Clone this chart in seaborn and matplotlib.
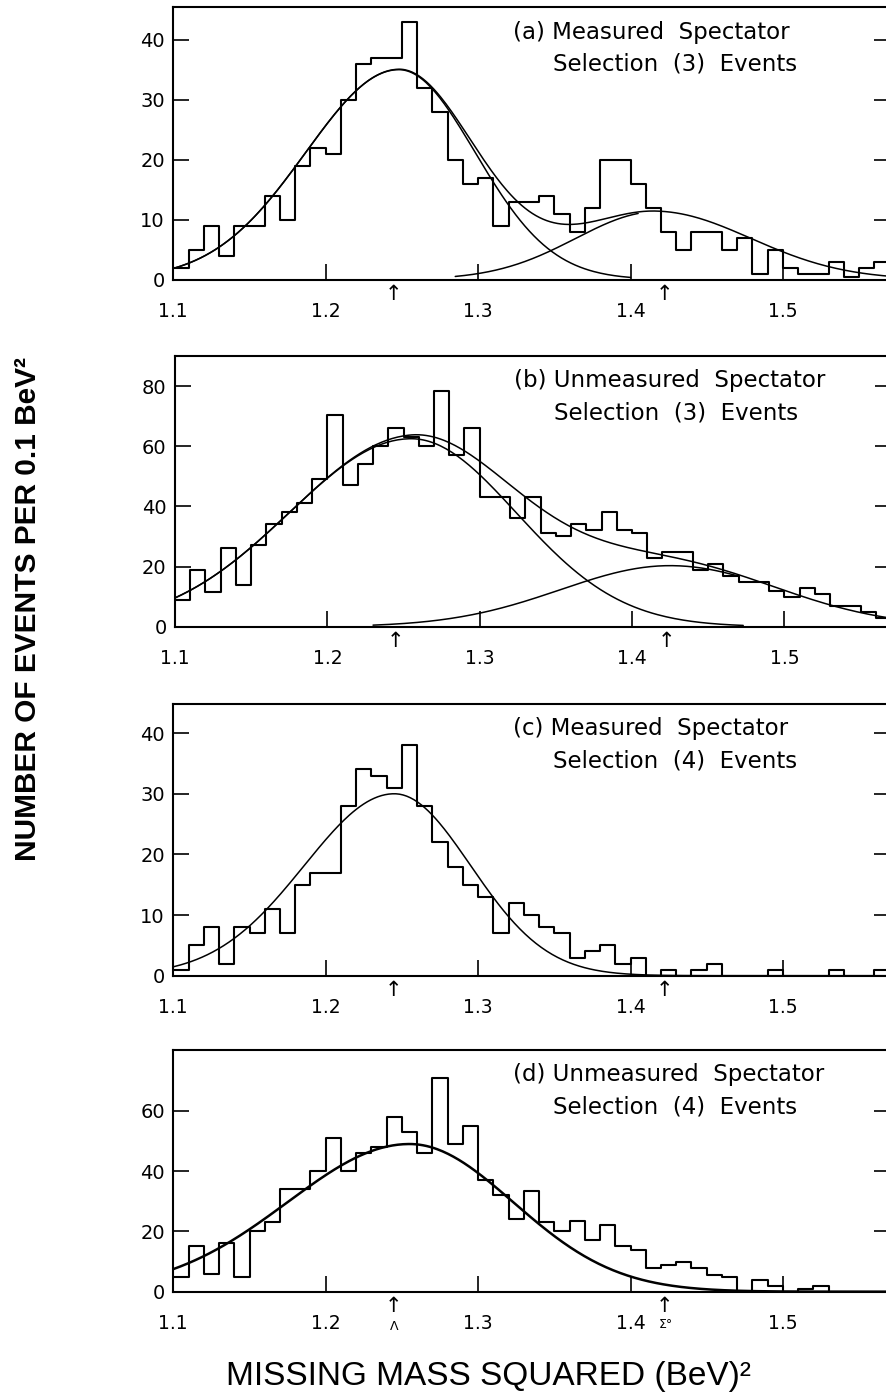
import numpy as np
import pandas as pd
import matplotlib
matplotlib.use("Agg")
import matplotlib.pyplot as plt
import seaborn as sns

# ---------------------------------------------------------------------------
# Missing-mass-squared histograms, 0.01 (BeV)^2 bins from 1.10 to 1.57
# ---------------------------------------------------------------------------
BIN_START = 1.10
BIN_STOP = 1.57
N_BINS = 47

# (a) measured spectator, selection (3)
counts_a = [2, 5, 9, 4, 9, 9, 14, 10, 19, 22,
            21, 30, 36, 37, 37, 43, 32, 28, 20, 16,
            17, 9, 13, 13, 14, 11, 8, 12, 20, 20,
            16, 12, 8, 5, 8, 8, 5, 7, 1, 5,
            2, 1, 1, 3, 0.5, 2, 3]
# (b) unmeasured spectator, selection (3)
counts_b = [9, 19, 11.5, 26, 14, 27, 34, 38, 41, 49,
            70.5, 47, 54, 60, 66, 63, 60, 78.5, 57, 66,
            43, 43, 36, 43, 31, 30, 34, 32, 38, 32,
            31, 23, 25, 25, 19, 21, 17, 15, 15, 12,
            10, 13, 11, 7, 7, 5, 3]
# (c) measured spectator, selection (4)
counts_c = [1, 5, 8, 2, 8, 7, 11, 7, 15, 17,
            17, 28, 34, 33, 31, 38, 28, 22, 18, 15,
            13, 7, 12, 10, 8, 7, 3, 4, 5, 2,
            3, 0, 1, 0, 1, 2, 0, 0, 0, 1,
            0, 0, 0, 1, 0, 0, 1]
# (d) unmeasured spectator, selection (4)
counts_d = [5, 15, 6, 16, 5, 20, 23, 34, 34, 40,
            51, 40, 46, 48, 58, 53, 46, 71, 49, 55,
            37, 32, 24, 33.5, 23, 20, 23.5, 17, 22, 15,
            14, 8, 9, 10, 8, 5.5, 5, 0, 4, 2,
            0, 1, 2, 0, 0, 0, 0]

# Fitted peaks: amplitude, centre, low-side width, high-side width
fit_a_lambda = [35.0, 1.248, 0.061, 0.050]
fit_a_sigma0 = [11.3, 1.417, 0.053, 0.062]
fit_b_lambda = [62.5, 1.255, 0.080, 0.069]
fit_b_sigma0 = [20.3, 1.425, 0.072, 0.073]
fit_c_lambda = [30.0, 1.245, 0.059, 0.050]
fit_d_lambda = [49.0, 1.255, 0.080, 0.068]

# Hyperon masses squared, marked under the axis
LAMBDA_M2 = 1.2448
SIGMA0_M2 = 1.4223

x_ticks = [1.1, 1.2, 1.3, 1.4, 1.5]
x_tick_labels = ["1.1", "1.2", "1.3", "1.4", "1.5"]
yticks_a = [0, 10, 20, 30, 40]
yticks_b = [0, 20, 40, 60, 80]
yticks_c = [0, 10, 20, 30, 40]
yticks_d = [0, 20, 40, 60]

titles = [
    ("(a) Measured  Spectator", "Selection  (3)  Events"),
    ("(b) Unmeasured  Spectator", "Selection  (3)  Events"),
    ("(c) Measured  Spectator", "Selection  (4)  Events"),
    ("(d) Unmeasured  Spectator", "Selection  (4)  Events"),
]
y_label = "NUMBER OF EVENTS PER 0.1 BeV²"
x_label = "MISSING MASS SQUARED (BeV)²"


def split_gauss(x, amp, mu, s_lo, s_hi):
    s = np.where(x < mu, s_lo, s_hi)
    return amp * np.exp(-0.5 * ((x - mu) / s) ** 2)


sns.set_theme(style="white")
plt.rcParams["font.family"] = ["DejaVu Sans"]
plt.rcParams.update({"text.color": "black", "axes.labelcolor": "black",
                     "xtick.color": "black", "ytick.color": "black"})

W, H = 886, 1397
fig = plt.figure(figsize=(W / 100, H / 100), dpi=100)

edges = list(np.linspace(BIN_START, BIN_STOP, N_BINS + 1))
centers = [0.5 * (lo + hi) for lo, hi in zip(edges[:-1], edges[1:])]


def panel_axes(left_px, top_px, bottom_px, right_px=889.6):
    return fig.add_axes([left_px / W, 1 - bottom_px / H,
                         (right_px - left_px) / W, (bottom_px - top_px) / H])


panels = [
    dict(ax=panel_axes(173.3, 7.3, 279.5), counts=counts_a, ylim=45.4,
         yticks=yticks_a, fits=[fit_a_lambda, fit_a_sigma0],
         parts=[(1.10, 1.40), (1.285, 1.405)], lw_fit=1.1, title=titles[0]),
    dict(ax=panel_axes(175.0, 356.0, 626.7, 891.0), counts=counts_b, ylim=90,
         yticks=yticks_b, fits=[fit_b_lambda, fit_b_sigma0],
         parts=[(1.10, 1.473), (1.23, 1.47)], lw_fit=1.1, title=titles[1]),
    dict(ax=panel_axes(173.3, 704.0, 975.7), counts=counts_c, ylim=44.8,
         yticks=yticks_c, fits=[fit_c_lambda],
         parts=[(1.10, 1.41)], lw_fit=1.1, title=titles[2]),
    dict(ax=panel_axes(173.3, 1050.0, 1291.7), counts=counts_d, ylim=80.2,
         yticks=yticks_d, fits=[fit_d_lambda],
         parts=[(1.10, 1.48)], lw_fit=1.8, title=titles[3]),
]

for i, p in enumerate(panels):
    ax = p["ax"]
    hist_df = pd.DataFrame({"m2": centers, "events": p["counts"]})
    sns.histplot(data=hist_df, x="m2", weights="events", bins=edges,
                 element="step", fill=False, color="black", linewidth=1.5,
                 ax=ax)

    # total fit over the whole range, individual components where drawn
    xs = np.linspace(BIN_START, BIN_STOP, 400)
    total = sum(split_gauss(xs, *f) for f in p["fits"])
    sns.lineplot(x=xs, y=total, color="black", linewidth=p["lw_fit"], ax=ax)
    if len(p["fits"]) > 1:
        for f, (x0, x1) in zip(p["fits"], p["parts"]):
            xc = np.linspace(x0, x1, 200)
            sns.lineplot(x=xc, y=split_gauss(xc, *f), color="black",
                         linewidth=p["lw_fit"], ax=ax)

    ax.set_xlim(BIN_START, BIN_STOP)
    ax.set_ylim(0, p["ylim"])
    ax.set_xticks(x_ticks)
    ax.set_xticklabels(x_tick_labels)
    ax.set_yticks(p["yticks"])
    ax.set(xlabel="", ylabel="")
    ax.tick_params(axis="x", direction="in", length=11.5, width=1.2,
                   bottom=True, top=False, pad=16, labelsize=13.5,
                   colors="black")
    ax.tick_params(axis="y", direction="in", length=11.5, width=1.2,
                   left=True, right=True, labelleft=True, labelright=False,
                   pad=6, labelsize=14, colors="black")
    for s in ax.spines.values():
        s.set_visible(True)
        s.set_color("black")
        s.set_linewidth(1.5)

    # panel caption
    ax.annotate(p["title"][0], xy=(0.474, 1), xycoords="axes fraction",
                xytext=(0, -18), textcoords="offset points",
                ha="left", va="center", fontsize=16.5, color="black")
    ax.annotate(p["title"][1], xy=(0.530, 1), xycoords="axes fraction",
                xytext=(0, -41), textcoords="offset points",
                ha="left", va="center", fontsize=16.5, color="black")

    # mass markers under the axis
    for xm in (LAMBDA_M2, SIGMA0_M2):
        ax.annotate("↑", xy=(xm, 0), xycoords=("data", "axes fraction"),
                    xytext=(0, -10.5), textcoords="offset points",
                    ha="center", va="center", fontsize=15, color="black")
    if i == 3:
        ax.annotate("Λ", xy=(LAMBDA_M2, 0), xycoords=("data", "axes fraction"),
                    xytext=(0, -25), textcoords="offset points",
                    ha="center", va="center", fontsize=9, color="black")
        ax.annotate("Σ°", xy=(SIGMA0_M2, 0), xycoords=("data", "axes fraction"),
                    xytext=(1, -23.5), textcoords="offset points",
                    ha="center", va="center", fontsize=9, color="black")

fig.text(28 / W, 1 - 609 / H, y_label, rotation=90, ha="center", va="center",
         fontsize=21.5, fontweight="bold", color="black",
         family=["Liberation Sans", "DejaVu Sans"])
fig.text(488 / W, 1 - 1377 / H, x_label, ha="center", va="center",
         fontsize=24, color="black",
         family=["Liberation Sans", "DejaVu Sans"])

fig.savefig("out.png", dpi=100, facecolor="white")
